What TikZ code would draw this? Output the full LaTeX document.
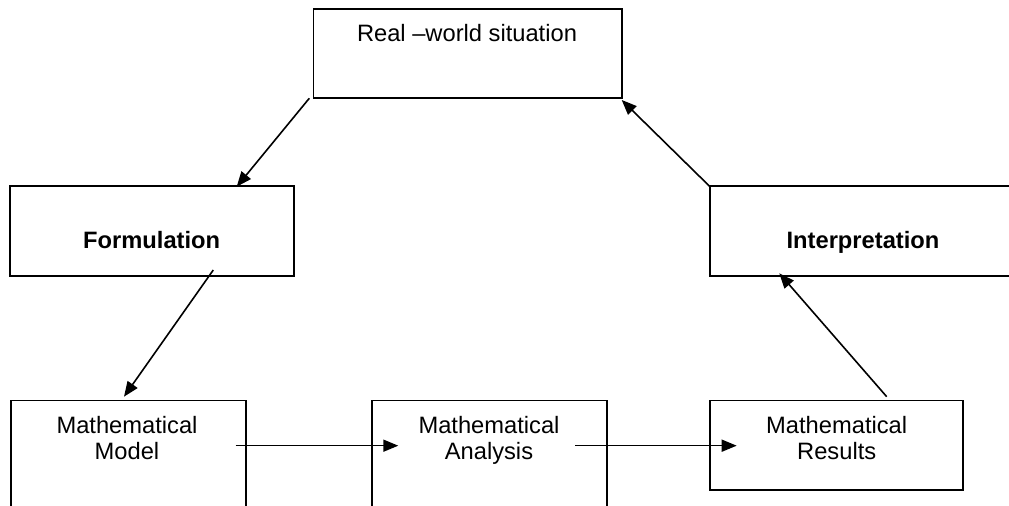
\documentclass[tikz,border=0pt]{standalone}
\usepackage{fontspec}
\setmainfont{Liberation Sans}
\usetikzlibrary{arrows.meta,fit}
\begin{document}
\begin{tikzpicture}[x=0.5pt,y=-0.5pt,
  box/.style={draw, line width=0.85pt, inner sep=0pt, rectangle},
  lbl/.style={font=\fontsize{11.85}{13}\selectfont, inner sep=0pt, align=center},
  boldlbl/.style={lbl, font=\fontsize{11.85}{13}\selectfont\bfseries},
  conn/.style={line width=0.8pt, -{Triangle[length=7.5pt,width=6pt]}}]
\clip (0,0) rectangle (1009,506);
% boxes
\node[box, fit={(313.5,9) (621.7,98)}] (rw) {};
\node[box, fit={(10,185.7) (294,276.2)}] (form) {};
\node[box, fit={(710,185.7) (1016,275.7)}] (interp) {};
\node[box, fit={(10.7,400.5) (245.7,515)}] (model) {};
\node[box, fit={(371.7,400.5) (606.7,515)}] (anal) {};
\node[box, fit={(710,400.5) (963.3,490)}] (res) {};
% texts
\node[lbl, anchor=base] (rwt) at (467,41.7) {Real –world situation};
\node[boldlbl, anchor=base] (formt) at (151.7,248.7) {Formulation};
\node[boldlbl, anchor=base] (interpt) at (863,249) {Interpretation};
\node[lbl, anchor=north] (modelt) at (127,416.4) {Mathematical\\Model};
\node[lbl, anchor=north] (analt) at (489,416.4) {Mathematical\\Analysis};
\node[lbl, anchor=north] (rest) at (836.7,416.4) {Mathematical\\Results};
% connector ends
\coordinate (a1s) at (309.3,98.3);  \coordinate (a1e) at (236.7,186.7);
\coordinate (a2s) at (213.3,270);   \coordinate (a2e) at (124,396.7);
\coordinate (a3s) at (235.7,445.7); \coordinate (a3e) at (398.3,445.7);
\coordinate (a4s) at (575,445.7);   \coordinate (a4e) at (736.7,445.7);
\coordinate (a5s) at (886.7,396.7); \coordinate (a5e) at (779.3,273.3);
\coordinate (a6s) at (710,186.7);   \coordinate (a6e) at (621.7,100);
% connectors
\draw[conn] (a1s) -- (a1e);
\draw[conn] (a2s) -- (a2e);
\draw[conn] (a3s) -- (a3e);
\draw[conn] (a4s) -- (a4e);
\draw[conn] (a5s) -- (a5e);
\draw[conn] (a6s) -- (a6e);
\end{tikzpicture}
\end{document}
